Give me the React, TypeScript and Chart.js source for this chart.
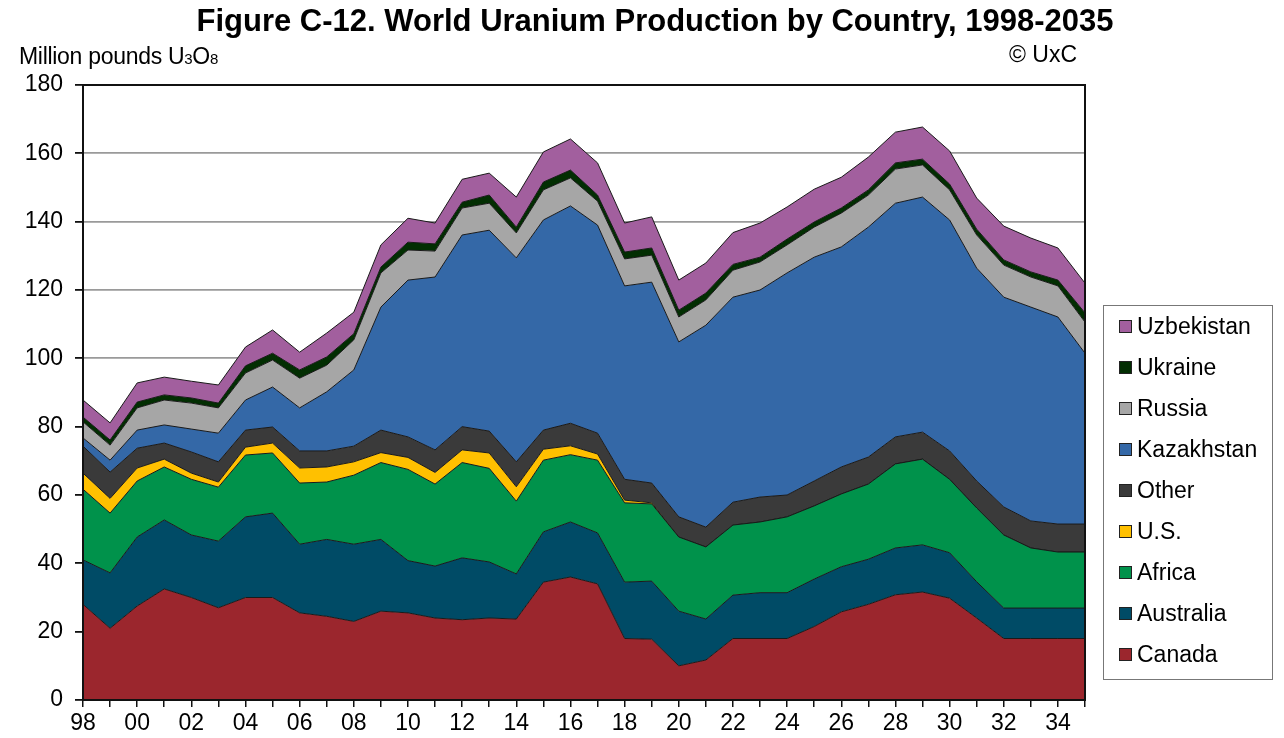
import React, { useEffect, useRef } from 'react';
import { Chart, registerables } from 'chart.js';

Chart.register(...registerables);

const years = ['98','99','00','01','02','03','04','05','06','07','08','09','10','11','12','13','14','15','16','17','18','19','20','21','22','23','24','25','26','27','28','29','30','31','32','33','34','35'];

const canada = [28,21,27.5,32.5,30,27,30,30,25.5,24.5,23,26,25.5,24,23.5,24,23.7,34.5,36,34,18,17.8,10,11.7,18,18,18,21.5,25.8,28,30.8,31.6,29.8,24,18,18,18,18];
const australia = [13,16.2,20.2,20.2,18.3,19.5,23.6,24.7,20.1,22.5,22.6,21,15.3,15.2,18.1,16.4,13.2,14.7,16.1,14.9,16.5,17,16,12,12.7,13.4,13.4,13.9,13.2,13.2,13.7,13.8,13.3,10.6,8.9,8.9,8.9,8.9];
const africa = [20.7,17.5,16.4,15.5,16.3,15.8,18.1,17.6,17.9,16.8,20.2,22.5,26.7,24,27.9,27.4,21.3,21,19.7,21.3,23.2,22.6,21.7,21.1,20.5,20.7,22.2,21.4,21.3,22,24.6,25.1,21.5,21.6,21.4,17.6,16.4,16.4];
const us = [4.7,4.3,3.8,2.3,1.8,1.5,2.3,2.9,4.4,4.4,3.9,2.9,3.5,3.4,3.7,4.5,4.2,3.2,2.6,1.8,0.8,0.3,0,0,0,0,0,0,0,0,0,0,0,0,0,0,0,0];
const other = [7.9,7.7,5.8,4.7,6.2,5.9,5,4.7,5,4.7,4.6,6.6,6,6.6,6.8,6.4,7.3,5.6,6.6,6.1,6.1,5.8,5.9,5.8,6.7,7.3,6.4,7.3,7.9,7.9,7.9,7.9,8.3,7.9,8.2,7.9,8.2,8.2];
const kazakhstan = [2.4,3.5,5.3,5.3,6.7,8.4,8.8,11.7,12.6,17.3,22.3,36,45.9,50.6,56.1,58.8,59.7,61.5,63.6,60.9,56.6,58.8,51.2,59.1,60,60.6,65,65.5,64.4,67.3,68.4,68.8,67.6,62.3,61.4,62.6,60.6,50];
const russia = [4.7,4.4,6.5,7.3,7.6,7.4,7.9,7.9,8.7,7.8,8.8,10,8.8,7.6,7.9,7.9,7.3,8.8,8.2,7,7.9,7.9,7.3,7.4,7.9,8.2,8.2,8.8,9.9,9.4,10,9.4,8.8,9.7,9.4,8.8,9.1,9.1];
const ukraine = [1.4,1.5,1.7,1.5,1.5,1.4,2.1,2,2.4,2.4,1.8,1.7,2.3,2.1,1.7,2.4,1.7,2.3,2.3,1.8,2,2.1,2,2,1.7,1.4,1.7,1.5,1.5,1.5,1.8,1.7,1.7,1.7,1.5,1.5,1.7,2.7];
const uzbekistan = [5,5,5.6,5.2,4.9,5.3,5.5,6.8,5.2,7,6.3,6.5,7,6.1,6.7,6.4,8.8,8.8,9.1,9.4,8.5,9.1,8.8,8.8,9.3,10,9.4,9.6,9,9.6,9,9.4,9.7,9.1,9.9,9.9,9.4,8.7];

const yTicks = [0, 20, 40, 60, 80, 100, 120, 140, 160, 180];

const seriesNames = ['Canada', 'Australia', 'Africa', 'U.S.', 'Other', 'Kazakhstan', 'Russia', 'Ukraine', 'Uzbekistan'];
const seriesColors = ['#9B262D', '#004B66', '#00924B', '#FFC000', '#3A3A3A', '#3468A7', '#A6A6A6', '#022E02', '#A25F9E'];
const seriesData = [canada, australia, africa, us, other, kazakhstan, russia, ukraine, uzbekistan];

const FONT = '"Liberation Sans", Arial, sans-serif';

const frame = {
  id: 'frame',
  afterDatasetsDraw(chart: any) {
    const { ctx, chartArea } = chart;
    ctx.save();
    ctx.strokeStyle = '#111';
    ctx.lineWidth = 2;
    ctx.strokeRect(chartArea.left, chartArea.top, chartArea.right - chartArea.left, chartArea.bottom - chartArea.top);
    ctx.restore();
  },
};

export default function App() {
  const ref = useRef<HTMLCanvasElement | null>(null);

  useEffect(() => {
    if (!ref.current) return;
    const chart = new Chart(ref.current, {
      type: 'line',
      data: {
        labels: years,
        datasets: seriesData.map((d, i) => ({
          label: seriesNames[i],
          data: d,
          backgroundColor: seriesColors[i],
          borderColor: '#1a1a1a',
          borderWidth: 1,
          pointRadius: 0,
          tension: 0,
          fill: i === 0 ? 'origin' : '-1',
        })),
      },
      options: {
        responsive: false,
        animation: false,
        layout: { padding: { left: 0, right: 199, top: 85, bottom: 0 } },
        plugins: {
          legend: { display: false },
          tooltip: { enabled: false },
          title: { display: false },
        },
        scales: {
          x: {
            type: 'category',
            offset: false,
            grid: { display: true, drawOnChartArea: false, drawTicks: true, tickLength: 7, tickColor: '#111', lineWidth: 1.5 },
            border: { display: true, color: '#111', width: 2 },
            ticks: {
              autoSkip: false,
              maxRotation: 0,
              minRotation: 0,
              padding: 3,
              color: '#000',
              font: { family: FONT, size: 23 },
              callback: (_v: any, idx: number) => (idx % 2 === 0 ? years[idx] : ''),
            },
            afterFit: (s: any) => { s.height = 38; },
          },
          y: {
            stacked: true,
            min: 0,
            max: 180,
            afterBuildTicks: (s: any) => { s.ticks = yTicks.map((v) => ({ value: v })); },
            grid: { color: '#9a9a9a', lineWidth: 1.8, tickColor: '#111', tickLength: 8, drawTicks: true },
            border: { display: true, color: '#111', width: 2 },
            ticks: {
              padding: 12,
              color: '#000',
              font: { family: FONT, size: 23 },
            },
            afterFit: (s: any) => { s.width = 83; },
          },
        },
      },
      plugins: [frame],
    });
    return () => chart.destroy();
  }, []);

  const legendItems = seriesNames.map((n, i) => ({ name: n, color: seriesColors[i] })).reverse();

  return (
    <div style={{ position: 'absolute', left: 0, top: 0, width: 1284, height: 738, background: '#fff', fontFamily: FONT, color: '#000' }}>
      <canvas ref={ref} width={1284} height={738} style={{ position: 'absolute', left: 0, top: 0 }} />
      <div style={{ position: 'absolute', left: 0, width: 1310, top: 5, textAlign: 'center', fontSize: 31, lineHeight: '31px', fontWeight: 'bold', whiteSpace: 'nowrap' }}>
        Figure C-12. World Uranium Production by Country, 1998-2035
      </div>
      <div style={{ position: 'absolute', left: 19, top: 45, fontSize: 23, lineHeight: '23px', whiteSpace: 'nowrap', letterSpacing: -0.3 }}>
        Million pounds U<span style={{ fontSize: 15 }}>3</span>O<span style={{ fontSize: 15 }}>8</span>
      </div>
      <div style={{ position: 'absolute', right: 207, top: 43, fontSize: 23, lineHeight: '23px', whiteSpace: 'nowrap' }}>
        © UxC
      </div>
      <div style={{ position: 'absolute', left: 1103, top: 305, width: 168, height: 373, border: '1.5px solid #777', boxSizing: 'content-box' }} />
      {legendItems.map((it, i) => {
        const c = 326 + i * 41;
        return (
          <React.Fragment key={it.name}>
            <div style={{ position: 'absolute', left: 1119, top: c - 6, width: 11, height: 11, background: it.color, border: '1px solid #222' }} />
            <div style={{ position: 'absolute', left: 1137, top: c + 8 - 19.5, fontSize: 23, lineHeight: '23px', whiteSpace: 'nowrap' }}>{it.name}</div>
          </React.Fragment>
        );
      })}
    </div>
  );
}
